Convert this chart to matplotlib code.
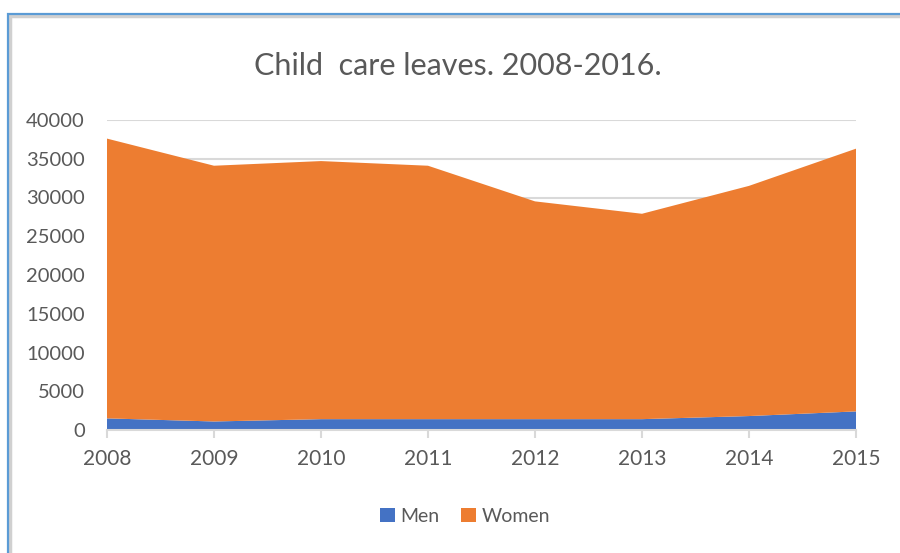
import matplotlib.pyplot as plt
from matplotlib.patches import Rectangle

# data: child care leaves by sex
years = [2008, 2009, 2010, 2011, 2012, 2013, 2014, 2015]
men = [1500, 1100, 1400, 1400, 1400, 1400, 1800, 2400]
women = [36100, 33000, 33300, 32700, 28100, 26500, 29700, 33900]
yticks = [0, 5000, 10000, 15000, 20000, 25000, 30000, 35000, 40000]

blue = "#4472C4"
orange = "#ED7D31"
grey_text = "#595959"
grid_col = "#D9D9D9"

plt.rcParams["font.family"] = ["Lato", "DejaVu Sans"]

fig = plt.figure(figsize=(9, 5.53), dpi=100)
ax = fig.add_axes([107 / 900, 1 - 430 / 553, (856 - 107) / 900, (430 - 120) / 553])

ax.stackplot(years, men, women, colors=[blue, orange], labels=["Men", "Women"], zorder=2)

ax.set_xlim(years[0], years[-1])
ax.set_ylim(0, 40000)
ax.set_xticks(years)
ax.set_yticks(yticks)
ax.set_yticklabels([str(v) for v in yticks])
ax.grid(axis="y", color=grid_col, linewidth=1.5, zorder=0)

for s in ["top", "right", "left"]:
    ax.spines[s].set_visible(False)
ax.spines["bottom"].set_color(grid_col)
ax.spines["bottom"].set_linewidth(1.5)
ax.spines["bottom"].set_zorder(3)

ax.tick_params(axis="y", length=0, pad=16, labelsize=14.5, labelcolor=grey_text)
ax.tick_params(axis="x", length=6, width=1.5, color=grid_col, pad=8, labelsize=15, labelcolor=grey_text)

fig.text(0.509, 1 - 66 / 553, "Child  care leaves. 2008-2016.", ha="center", va="center",
         fontsize=22, color=grey_text)

leg = fig.legend(loc="center", bbox_to_anchor=(465 / 900, 1 - 516 / 553), ncol=2, frameon=False,
                 fontsize=14, handlelength=0.75, handleheight=0.75, handletextpad=0.3, columnspacing=1.1)
for t in leg.get_texts():
    t.set_color(grey_text)

# outer chart border, cut off at the right and bottom edges
fig.patches.append(Rectangle((10 / 900, -0.1), 1.0, 1 - 16 / 553 + 0.1, transform=fig.transFigure,
                             fill=False, edgecolor="#D0D0D0", linewidth=2.5))
fig.patches.append(Rectangle((8 / 900, -0.1), 1.0, 1 - 14 / 553 + 0.1, transform=fig.transFigure,
                             fill=False, edgecolor="#5B9BD5", linewidth=1.6))

fig.savefig("out.png", dpi=100)
